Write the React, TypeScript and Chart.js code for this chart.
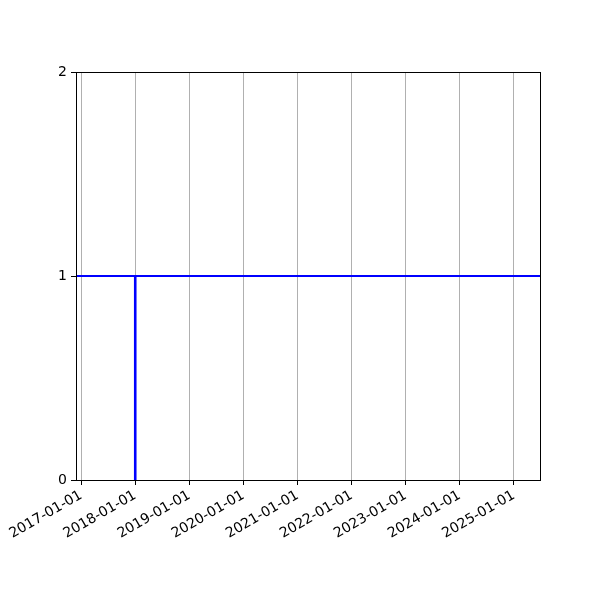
import React, { useRef, useEffect } from "react";
import { Chart, ChartConfiguration, registerables } from "chart.js";

Chart.register(...registerables);

// axis range (dates)
const xStart = "2016-11-27";
const xEnd = "2025-06-26";

// x tick labels
const tickDates = [
  "2017-01-01",
  "2018-01-01",
  "2019-01-01",
  "2020-01-01",
  "2021-01-01",
  "2022-01-01",
  "2023-01-01",
  "2024-01-01",
  "2025-01-01",
];

// horizontal level line
const levelDates = [xStart, xEnd];
const levelValues = [1, 1];

// vertical step at 2018
const stepDates = ["2018-01-01", "2018-01-01"];
const stepValues = [0, 1];

const yTicks = [0, 1, 2];

const ts = (d: string) => Date.parse(d + "T00:00:00Z");
const fmt = (v: number) => new Date(v).toISOString().slice(0, 10);

const framePlugin = {
  id: "frame",
  afterDraw(chart: Chart) {
    const { ctx, chartArea } = chart;
    ctx.save();
    ctx.strokeStyle = "black";
    ctx.lineWidth = 1;
    ctx.strokeRect(
      Math.round(chartArea.left) + 0.5,
      Math.round(chartArea.top) + 0.5,
      Math.round(chartArea.right - chartArea.left),
      Math.round(chartArea.bottom - chartArea.top)
    );
    ctx.restore();
  },
};

const StepChart: React.FC = () => {
  const chartRef = useRef<HTMLCanvasElement | null>(null);
  const chartInstanceRef = useRef<Chart | null>(null);

  useEffect(() => {
    if (!chartRef.current) return;
    const ctx = chartRef.current.getContext("2d");
    if (!ctx) return;
    if (chartInstanceRef.current) chartInstanceRef.current.destroy();

    const font = { family: "DejaVu Sans", size: 14 };

    const config: ChartConfiguration = {
      type: "line",
      data: {
        datasets: [
          {
            data: levelDates.map((d, i) => ({ x: ts(d), y: levelValues[i] })),
            borderColor: "#0000ff",
            borderWidth: 2,
            pointRadius: 0,
            fill: false,
          },
          {
            data: stepDates.map((d, i) => ({ x: ts(d), y: stepValues[i] })),
            borderColor: "#0000ff",
            borderWidth: 2.6,
            pointRadius: 0,
            fill: false,
          },
        ],
      },
      options: {
        animation: false,
        responsive: false,
        devicePixelRatio: 1,
        layout: { padding: { left: 0, right: 60, top: 72, bottom: 0 } },
        plugins: {
          legend: { display: false },
          tooltip: { enabled: false },
        },
        scales: {
          x: {
            type: "linear",
            min: ts(xStart),
            max: ts(xEnd),
            afterBuildTicks: (scale: any) => {
              scale.ticks = tickDates.map((d) => ({ value: ts(d) }));
            },
            afterFit: (scale: any) => {
              scale.height = 120;
            },
            ticks: {
              color: "black",
              font,
              minRotation: 30,
              maxRotation: 30,
              autoSkip: false,
              padding: 2,
              callback: (v: any) => fmt(Number(v)),
            },
            grid: {
              color: "#b0b0b0",
              lineWidth: 1,
              tickColor: "black",
              tickLength: 5,
            },
            border: { color: "black", width: 1 },
          },
          y: {
            type: "linear",
            min: 0,
            max: 2,
            afterBuildTicks: (scale: any) => {
              scale.ticks = yTicks.map((v) => ({ value: v }));
            },
            afterFit: (scale: any) => {
              scale.width = 76;
            },
            ticks: {
              color: "black",
              font,
              padding: 4,
            },
            grid: {
              drawOnChartArea: false,
              tickColor: "black",
              tickLength: 5,
            },
            border: { color: "black", width: 1 },
          },
        },
      },
      plugins: [framePlugin],
    };

    chartInstanceRef.current = new Chart(ctx, config);
    return () => {
      if (chartInstanceRef.current) {
        chartInstanceRef.current.destroy();
        chartInstanceRef.current = null;
      }
    };
  }, []);

  return (
    <div style={{ position: "absolute", left: 0, top: 0, width: 600, height: 600, background: "white" }}>
      <canvas ref={chartRef} width={600} height={600}></canvas>
    </div>
  );
};

export default function App() {
  return <StepChart />;
}
